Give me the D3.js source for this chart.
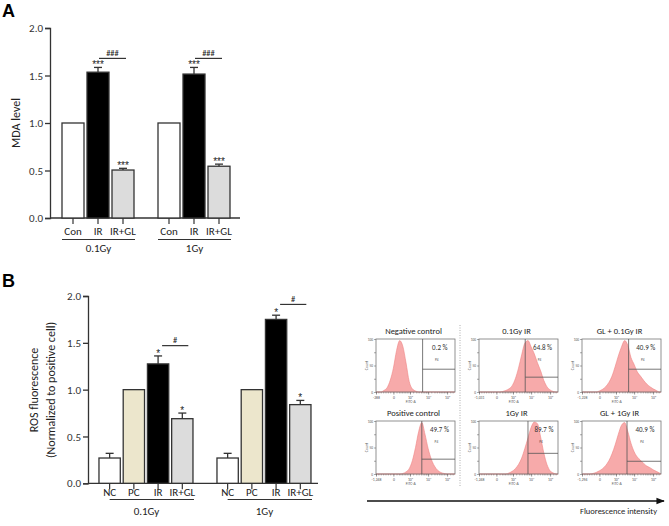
<!DOCTYPE html>
<html><head><meta charset="utf-8">
<script src="https://cdn.jsdelivr.net/npm/d3@7"></script>
<style>body{margin:0;background:#fff}svg{display:block}</style>
</head><body>
<script>
// ---------- Panel A data ----------
const aGroups = ["0.1Gy", "1Gy"];
const aCats = ["Con", "IR", "IR+GL"];
const aMean = [[1.0, 1.535, 0.505], [1.0, 1.515, 0.545]];
const aErr = [[0, 0.05, 0.018], [0, 0.07, 0.022]];
const aStars = [["", "***", "***"], ["", "***", "***"]];
const aHash = ["###", "###"];
const aHashY = [1.68, 1.68];
const aTicks = [0, 0.5, 1.0, 1.5, 2.0];
const aColors = ["#ffffff", "#000000", "#dcdcdc"];

// ---------- Panel B data ----------
const bGroups = ["0.1Gy", "1Gy"];
const bCats = ["NC", "PC", "IR", "IR+GL"];
const bMean = [[0.27, 1.0, 1.275, 0.69], [0.27, 1.0, 1.75, 0.84]];
const bErr = [[0.05, 0, 0.085, 0.06], [0.05, 0, 0.045, 0.045]];
const bStars = [["", "", "*", "*"], ["", "", "*", "*"]];
const bHash = ["#", "#"];
const bHashY = [1.47, 1.91];
const bTicks = [0, 0.5, 1.0, 1.5, 2.0];
const bColors = ["#ffffff", "#ece6cc", "#000000", "#dcdcdc"];

// ---------- Flow cytometry data ----------
const flowTitles = ["Negative control", "0.1Gy IR", "GL + 0.1Gy IR", "Positive control", "1Gy IR", "GL + 1Gy IR"];
const flowPercents = ["0.2 %", "64.8 %", "40.9 %", "49.7 %", "89.7 %", "40.9 %"];
const flowGateX = [59, 58.5, 59, 58, 62, 57];
const flowGateY = [43, 28, 43, 28, 39, 24];
const flowMinLabels = ["-288", "-1,031", "-1,228", "-1,248", "-1,248", "-1,294"];
const flowAxisTicks = [0, 22, 43, 66, 90];
const flowAxisLabels = ["", "0", "10³", "10⁴", "10⁵"];
const flowMinorTicks = [3, 6, 9, 12, 15, 18, 26, 29, 31, 33, 35, 37, 39, 41, 47, 51, 54, 57, 59, 61, 63, 64, 70, 74, 77, 80, 82, 84, 86, 88, 94, 97];
const flowCountTicks = [0, 25, 50, 75, 100];
const flowCountLabels = ["0", "", "50", "", "100"];
const binCenters = [2, 6, 10, 14, 18, 22, 26, 30, 34, 38, 42, 46, 50, 54, 58, 62, 66, 70, 74, 78, 82, 86, 90, 94, 98];
const flowCounts = [
  [0, 0, 3, 8, 22, 45, 78, 97, 86, 55, 20, 6, 2, 0, 0, 0, 0, 0, 0, 0, 0, 0, 0, 0, 0],
  [0, 0, 0, 0, 0, 0, 0, 1, 3, 6, 12, 25, 45, 70, 92, 97, 85, 72, 55, 40, 22, 10, 4, 1, 0],
  [0, 0, 0, 0, 0, 2, 5, 10, 18, 30, 48, 68, 85, 97, 88, 65, 52, 38, 30, 22, 15, 10, 6, 3, 0],
  [0, 0, 0, 0, 0, 0, 0, 0, 1, 4, 10, 25, 50, 80, 97, 75, 48, 28, 15, 7, 3, 1, 0, 0, 0],
  [0, 0, 0, 0, 0, 0, 0, 0, 0, 2, 5, 10, 18, 30, 48, 68, 88, 98, 95, 70, 40, 18, 6, 2, 0],
  [0, 0, 0, 1, 3, 6, 10, 16, 25, 38, 55, 75, 92, 97, 80, 58, 42, 32, 26, 20, 15, 12, 8, 5, 2]
];

const FONT = "Carlito, Lato, 'Noto Sans', sans-serif";
const STARFONT = "'Liberation Sans', Arial, sans-serif";
const W = 669, H = 526;
const svg = d3.select("body").append("svg").attr("width", W).attr("height", H)
  .style("font-family", FONT);
svg.append("rect").attr("width", W).attr("height", H).attr("fill", "#fff");

function barPanel(cfg) {
  const g = svg.append("g");
  const { y, x0, x1, groups, cats, mean, err, stars, hash, hashY, colors, ticks, axisEnd, baseY } = cfg;
  const ax = g.append("g").attr("transform", `translate(${cfg.axisX},0)`)
    .call(d3.axisLeft(y).tickValues(ticks).tickFormat(d3.format(".1f")).tickSize(5).tickPadding(2));
  ax.select(".domain").attr("stroke", "#333").attr("stroke-width", 1.3);
  ax.selectAll(".tick line").attr("stroke", "#333").attr("stroke-width", 1.3);
  ax.selectAll(".tick text").attr("font-family", FONT).attr("font-size", 11).attr("fill", "#333");
  g.append("line").attr("x1", cfg.axisX).attr("x2", axisEnd).attr("y1", baseY).attr("y2", baseY)
    .attr("stroke", "#333").attr("stroke-width", 1.3);
  groups.forEach((grp, gi) => {
    const gx = x0(grp);
    cats.forEach((c, ci) => {
      const bx = gx + x1(c), bw = x1.bandwidth(), cx = bx + bw / 2;
      const m = mean[gi][ci], e = err[gi][ci];
      g.append("rect").attr("x", bx).attr("y", y(m)).attr("width", bw).attr("height", baseY - y(m))
        .attr("fill", colors[ci]).attr("stroke", "#333").attr("stroke-width", 1.3);
      if (e > 0) {
        g.append("line").attr("x1", cx).attr("x2", cx).attr("y1", y(m)).attr("y2", y(m + e))
          .attr("stroke", "#333").attr("stroke-width", 1.3);
        g.append("line").attr("x1", cx - 4).attr("x2", cx + 4).attr("y1", y(m + e)).attr("y2", y(m + e))
          .attr("stroke", "#333").attr("stroke-width", 1.3);
      }
      if (stars[gi][ci]) {
        g.append("text").attr("x", cx).attr("y", y(m + e) + 1).attr("text-anchor", "middle")
          .attr("font-family", STARFONT).attr("font-size", 10).attr("fill", "#222").text(stars[gi][ci]);
      }
      g.append("line").attr("x1", cx).attr("x2", cx).attr("y1", baseY).attr("y2", baseY + 6)
        .attr("stroke", "#333").attr("stroke-width", 1.2);
      g.append("text").attr("x", cx).attr("y", cfg.catLabelY).attr("text-anchor", "middle")
        .attr("font-size", 11).attr("fill", "#222").text(c);
    });
    const lineStart = cfg.groupLineFromCenter ? gx + x1(cats[0]) + x1.bandwidth() / 2 : gx;
    const lineEnd = gx + x1(cats[cats.length - 1]) + x1.bandwidth() + 1;
    g.append("line").attr("x1", lineStart).attr("x2", lineEnd).attr("y1", cfg.groupLineY).attr("y2", cfg.groupLineY)
      .attr("stroke", "#333").attr("stroke-width", 1);
    g.append("text").attr("x", (gx + lineEnd) / 2).attr("y", cfg.groupLabelY).attr("text-anchor", "middle")
      .attr("font-size", 11).attr("fill", "#222").text(grp);
    const irI = cats.indexOf("IR"), glI = cats.indexOf("IR+GL");
    const hx1 = gx + x1(cats[irI]) + x1.bandwidth() / 2 + cfg.hashOff[0];
    const hx2 = gx + x1(cats[glI]) + x1.bandwidth() / 2 + cfg.hashOff[1];
    const hy = y(hashY[gi]);
    g.append("line").attr("x1", hx1).attr("x2", hx2).attr("y1", hy).attr("y2", hy)
      .attr("stroke", "#333").attr("stroke-width", 1.2);
    g.append("text").attr("x", (hx1 + hx2) / 2).attr("y", hy - 2.5).attr("text-anchor", "middle")
      .attr("font-size", 8.5).attr("fill", "#222").text(hash[gi]);
  });
  return g;
}

// ---------- Panel A ----------
const yA = d3.scaleLinear().domain([0, 2]).range([218, 28]);
const x0A = d3.scaleBand().domain(aGroups).range([50, 242]).paddingInner(0.25).paddingOuter(0.125);
const x1A = d3.scaleBand().domain(aCats).range([0, 72]).paddingInner(0.12);
barPanel({ y: yA, x0: x0A, x1: x1A, groups: aGroups, cats: aCats, mean: aMean, err: aErr, stars: aStars,
  hash: aHash, hashY: aHashY, colors: aColors, ticks: aTicks, axisX: 50, axisEnd: 240, baseY: 218,
  catLabelY: 235, groupLineY: 239.5, groupLabelY: 252, groupLineFromCenter: false, hashOff: [1, 3] });
svg.append("text").attr("x", 2).attr("y", 17).attr("font-family", "Liberation Sans, Arial, sans-serif")
  .attr("font-weight", "bold").attr("font-size", 18).text("A");
svg.append("text").attr("transform", "translate(20,123) rotate(-90)").attr("text-anchor", "middle")
  .attr("font-size", 12).attr("fill", "#222").text("MDA level");

// ---------- Panel B ----------
const yB = d3.scaleLinear().domain([0, 2]).range([483.3, 296]);
const x0B = d3.scaleBand().domain(bGroups).range([88, 322]).paddingInner(0.203).paddingOuter(0.093);
const x1B = d3.scaleBand().domain(bCats).range([0, 94]).paddingInner(0.12);
barPanel({ y: yB, x0: x0B, x1: x1B, groups: bGroups, cats: bCats, mean: bMean, err: bErr, stars: bStars,
  hash: bHash, hashY: bHashY, colors: bColors, ticks: bTicks, axisX: 88, axisEnd: 318, baseY: 483.3,
  catLabelY: 495.5, groupLineY: 499.5, groupLabelY: 514.5, groupLineFromCenter: true, hashOff: [4, 6] });
svg.append("text").attr("x", 2).attr("y", 287).attr("font-family", "Liberation Sans, Arial, sans-serif")
  .attr("font-weight", "bold").attr("font-size", 18).text("B");
svg.append("text").attr("transform", "translate(38,390) rotate(-90)").attr("text-anchor", "middle")
  .attr("font-size", 12).attr("fill", "#222").text("ROS fluorescence");
svg.append("text").attr("transform", "translate(55,390) rotate(-90)").attr("text-anchor", "middle")
  .attr("font-size", 12).attr("fill", "#222").text("(Normalized to positive cell)");

// ---------- Flow panels ----------
const boxXs = [376, 479, 582], boxYs = [339, 421], BW = 79, BH = 53;
flowTitles.forEach((t, i) => {
  const bx = boxXs[i % 3], by = boxYs[Math.floor(i / 3)];
  const g = svg.append("g").attr("transform", `translate(${bx},${by})`);
  const fx = d3.scaleLinear().domain([0, 100]).range([0, BW]);
  const fy = d3.scaleLinear().domain([0, 100]).range([BH, 0]);
  g.append("text").attr("x", BW / 2 - 2).attr("y", -5).attr("text-anchor", "middle")
    .attr("font-size", 8.5).attr("fill", "#222").text(t);
  const pts = [[0, 0]];
  binCenters.forEach((b, k) => { pts.push([b, flowCounts[i][k]]); });
  pts.push([100, 0]);
  const area = d3.area().x(d => fx(d[0])).y0(fy(0)).y1(d => fy(d[1])).curve(d3.curveMonotoneX);
  g.append("path").attr("d", area(pts)).attr("fill", "#f7aaaa").attr("stroke", "#ef8585").attr("stroke-width", 0.6);
  g.append("rect").attr("width", BW).attr("height", BH).attr("fill", "none").attr("stroke", "#777").attr("stroke-width", 0.8);
  const gx = fx(flowGateX[i]);
  g.append("line").attr("x1", gx).attr("x2", gx).attr("y1", 0).attr("y2", BH).attr("stroke", "#555").attr("stroke-width", 0.8);
  g.append("line").attr("x1", gx).attr("x2", BW).attr("y1", fy(flowGateY[i])).attr("y2", fy(flowGateY[i]))
    .attr("stroke", "#555").attr("stroke-width", 0.8);
  const px = (gx + BW) / 2;
  g.append("text").attr("x", px + 1).attr("y", 11).attr("text-anchor", "middle").attr("font-size", 7)
    .attr("fill", "#333").text(flowPercents[i]);
  g.append("text").attr("x", px - 2).attr("y", 22).attr("text-anchor", "middle").attr("font-size", 3.5)
    .attr("fill", "#555").text("P4");
  const la = g.append("g").call(d3.axisLeft(fy).tickValues(flowCountTicks).tickSize(2).tickPadding(1)
    .tickFormat((d, k) => flowCountLabels[k]));
  la.select(".domain").remove();
  la.selectAll("line").attr("stroke", "#555").attr("stroke-width", 0.5);
  la.selectAll("text").attr("font-size", 3.5).attr("fill", "#555").attr("font-family", FONT);
  g.append("text").attr("transform", `translate(-8,${BH / 2}) rotate(-90)`).attr("text-anchor", "middle")
    .attr("font-size", 3.8).attr("fill", "#555").text("Count");
  const ba = g.append("g").attr("transform", `translate(0,${BH})`)
    .call(d3.axisBottom(fx).tickValues(flowAxisTicks).tickSize(2.5).tickPadding(1.5)
      .tickFormat((d, k) => k === 0 ? flowMinLabels[i] : flowAxisLabels[k]));
  ba.select(".domain").remove();
  ba.selectAll("line").attr("stroke", "#444").attr("stroke-width", 0.6);
  ba.selectAll("text").attr("font-size", 3.8).attr("fill", "#555").attr("font-family", FONT);
  const mb = g.append("g").attr("transform", `translate(0,${BH})`)
    .call(d3.axisBottom(fx).tickValues(flowMinorTicks).tickSize(1.5).tickFormat(""));
  mb.select(".domain").remove();
  mb.selectAll("line").attr("stroke", "#555").attr("stroke-width", 0.4);
  g.append("text").attr("x", fx(44)).attr("y", BH + 10.5).attr("text-anchor", "middle").attr("font-size", 3.8)
    .attr("fill", "#555").text("FITC-A");
});
svg.append("line").attr("x1", 460).attr("x2", 460).attr("y1", 325).attr("y2", 487)
  .attr("stroke", "#999").attr("stroke-width", 0.8).attr("stroke-dasharray", "1,1.5");
svg.append("defs").append("marker").attr("id", "ah").attr("viewBox", "0 0 10 10").attr("refX", 9).attr("refY", 5)
  .attr("markerWidth", 6).attr("markerHeight", 6).attr("orient", "auto")
  .append("path").attr("d", "M0,1 L10,5 L0,9 z").attr("fill", "#111");
svg.append("line").attr("x1", 367).attr("x2", 664).attr("y1", 501).attr("y2", 501)
  .attr("stroke", "#111").attr("stroke-width", 1.4).attr("marker-end", "url(#ah)");
svg.append("text").attr("x", 657).attr("y", 514).attr("text-anchor", "end").attr("font-size", 8.5)
  .attr("fill", "#222").text("Fluorescence intensity");
</script>
</body></html>
